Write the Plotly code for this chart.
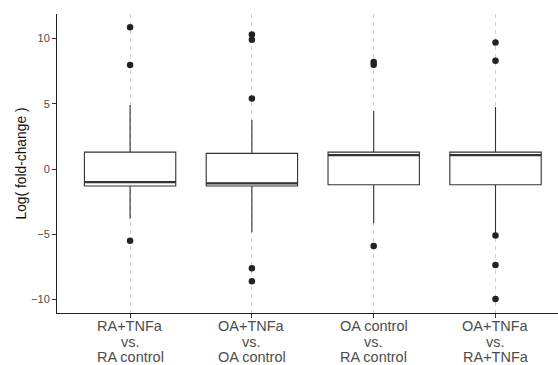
import plotly.graph_objects as go

categories = [["RA+TNFa", "vs.", "RA control"],
              ["OA+TNFa", "vs.", "OA control"],
              ["OA control", "vs.", "RA control"],
              ["OA+TNFa", "vs.", "RA+TNFa"]]
q1 = [-1.3, -1.3, -1.2, -1.2]
median = [-1.0, -1.1, 1.07, 1.07]
q3 = [1.3, 1.2, 1.3, 1.3]
lower_whisker = [-3.8, -4.85, -4.15, -4.9]
upper_whisker = [4.9, 3.75, 4.45, 4.75]
outliers = [
    [10.86, 7.97, -5.5],
    [10.3, 9.9, 5.4, -7.6, -8.6],
    [8.2, 8.0, -5.9],
    [9.7, 8.3, -5.1, -7.36, -9.96],
]
y_ticks = [-10, -5, 0, 5, 10]
y_title = "Log( fold-change )"

box_width = 0.75
line_col = "#333333"
fig = go.Figure()
pos = list(range(len(categories)))

for i in pos:
    fig.add_trace(go.Box(
        x=[i], q1=[q1[i]], median=[median[i]], q3=[q3[i]],
        lowerfence=[lower_whisker[i]], upperfence=[upper_whisker[i]],
        width=box_width, whiskerwidth=0, fillcolor="white",
        line=dict(color=line_col, width=1.1), boxpoints=False, showlegend=False,
        hoverinfo="skip"))
    fig.add_trace(go.Scatter(
        x=[i - box_width / 2, i + box_width / 2], y=[median[i], median[i]],
        mode="lines", line=dict(color=line_col, width=2.3), showlegend=False, hoverinfo="skip"))
    fig.add_trace(go.Scatter(
        x=[i] * len(outliers[i]), y=outliers[i], mode="markers",
        marker=dict(color="#222222", size=6.5), showlegend=False))

annotations = []
line_shifts = [-13, -29, -44]
for i, lines in enumerate(categories):
    for text, dy in zip(lines, line_shifts):
        annotations.append(dict(
            x=i, xref="x", y=0, yref="paper", text=text, showarrow=False,
            xanchor="center", yanchor="middle", yshift=dy,
            font=dict(size=14.5, color="#4d4d4d")))
annotations.append(dict(
    x=0, xref="paper", y=0.5, yref="paper", text=y_title, showarrow=False,
    textangle=-90, xanchor="center", yanchor="middle", xshift=-36,
    font=dict(size=13.8, color="#111111")))

fig.update_layout(
    width=558, height=365,
    margin=dict(l=57, r=0, t=14, b=52),
    plot_bgcolor="white", paper_bgcolor="white",
    font=dict(family="Liberation Sans, Arial, sans-serif"),
    annotations=annotations,
    xaxis=dict(
        range=[-0.6, 3.513], tickmode="array", tickvals=pos, ticktext=[""] * len(pos),
        showgrid=True, gridcolor="#d0d0d0", griddash="4px,4px", gridwidth=1,
        showline=True, linecolor="#222222", linewidth=1,
        ticks="outside", ticklen=4, tickcolor="#333333", zeroline=False),
    yaxis=dict(
        range=[-11.03, 11.88], tickvals=y_ticks,
        showgrid=False, zeroline=False,
        showline=True, linecolor="#222222", linewidth=1,
        ticks="outside", ticklen=4, tickcolor="#333333",
        tickfont=dict(size=11, color="#4d4d4d")),
)

fig.write_html("out.html")
